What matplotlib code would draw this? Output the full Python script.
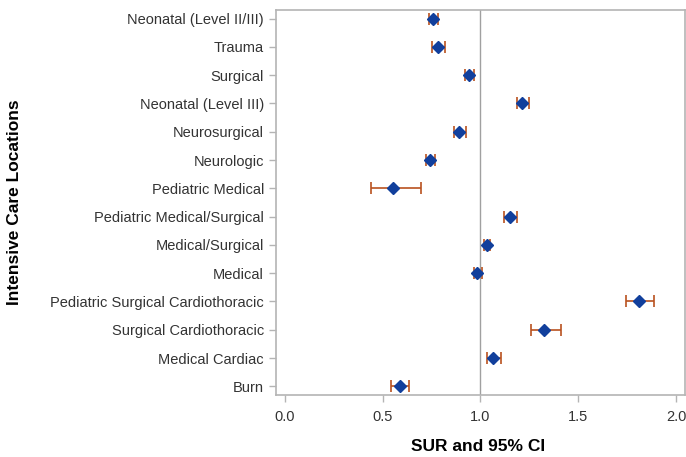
import matplotlib
matplotlib.use("Agg")
import matplotlib.pyplot as plt
import numpy as np

# categories listed top to bottom
locations = [
    "Neonatal (Level II/III)", "Trauma", "Surgical", "Neonatal (Level III)",
    "Neurosurgical", "Neurologic", "Pediatric Medical",
    "Pediatric Medical/Surgical", "Medical/Surgical", "Medical",
    "Pediatric Surgical Cardiothoracic", "Surgical Cardiothoracic",
    "Medical Cardiac", "Burn",
]
sur = [0.759, 0.784, 0.941, 1.214, 0.892, 0.745, 0.554,
       1.151, 1.032, 0.985, 1.809, 1.327, 1.066, 0.587]
ci_low = [0.738, 0.754, 0.919, 1.187, 0.866, 0.720, 0.443,
          1.122, 1.016, 0.965, 1.743, 1.258, 1.033, 0.544]
ci_high = [0.784, 0.818, 0.967, 1.248, 0.927, 0.769, 0.696,
           1.185, 1.049, 1.009, 1.889, 1.412, 1.105, 0.634]
xticks = [0.0, 0.5, 1.0, 1.5, 2.0]

plt.rcParams["font.family"] = ["Liberation Sans", "DejaVu Sans"]

color_marker = "#113f9c"
color_err = "#b9521f"
color_frame = "#b4b4b4"
color_text = "#333333"

fig = plt.figure(figsize=(6.86, 4.57), dpi=100)
ax = fig.add_axes([0.402, 0.136, 0.5965, 0.842])

y = np.arange(len(locations))[::-1]
sur = np.array(sur)
err = [sur - np.array(ci_low), np.array(ci_high) - sur]

ax.axvline(1.0, color="#a0a0a0", lw=1, zorder=1)
ax.errorbar(sur, y, xerr=err, fmt="none", ecolor=color_err, elinewidth=1.2,
            capsize=4, capthick=1.2, zorder=2)
ax.plot(sur, y, "D", color=color_marker, ms=6.5, mec=color_marker, zorder=3)

ax.set_xlim(-0.046, 2.046)
ax.set_ylim(-0.3, len(locations) - 0.7)
ax.set_xticks(xticks)
ax.set_xticklabels([f"{t:.1f}" for t in xticks])
ax.set_yticks(y)
ax.set_yticklabels(locations)

for s in ax.spines.values():
    s.set_color(color_frame)
    s.set_linewidth(1.2)
ax.tick_params(colors=color_frame, labelcolor=color_text, labelsize=10.5,
               length=5, width=1)
ax.tick_params(axis="x", pad=6)

ax.set_xlabel("SUR and 95% CI", fontsize=12.5, fontweight="bold", va="center")
ax.set_ylabel("Intensive Care Locations", fontsize=12.5, fontweight="bold",
              va="center")
ax.xaxis.set_label_coords(0.494, -0.135)
ax.yaxis.set_label_coords(-0.638, 0.5)

plt.savefig("out.png", dpi=100)
